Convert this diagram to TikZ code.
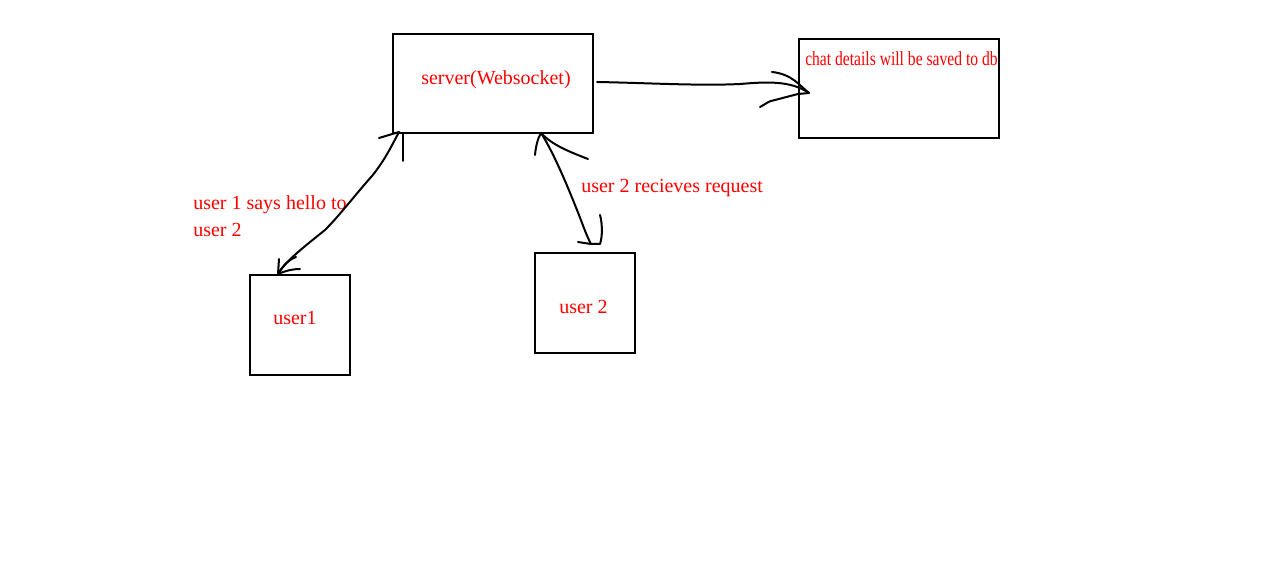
\documentclass[tikz,border=0pt]{standalone}
\usepackage{fontspec}
\setmainfont{Liberation Serif}
\usepackage{graphicx}
\begin{document}
\begin{tikzpicture}[x=0.75pt,y=-0.75pt,
  box/.style={draw=black, line width=1.5pt, inner sep=0pt, minimum width=150pt, minimum height=75pt},
  pen/.style={draw=black, line width=1.5pt, line cap=round, line join=round},
  lbl/.style={text=red, inner sep=0pt, anchor=base west, font=\fontsize{15}{20}\selectfont}]
\useasboundingbox (0,0) rectangle (1283,566);
\fill[white] (0,0) rectangle (1283,566);
% boxes
\node[box, minimum height=74.25pt] (srv) at (493,83.5) {};
\node[box, minimum height=74.25pt] (db) at (899,88.5) {};
\node[box, minimum width=75pt, minimum height=75pt] (u1) at (300,325) {};
\node[box, minimum width=75pt, minimum height=75pt] (u2) at (585,303.5) {};
% texts
\node[lbl] (tsrv) at (421,85) {server(Websocket)};
\node[lbl] (tdb) at (805,66) {\scalebox{0.78}[1]{chat details will be saved to db}};
\node[lbl] (tu1) at (273,325) {user1};
\node[lbl] (tu2) at (559,314) {user 2};
\node[lbl, align=left, anchor=north west, font=\fontsize{15}{20.25}\selectfont] (thello) at (193,195.5) {user 1 says hello to\\user 2};
\node[lbl] (trecv) at (581,193) {user 2 recieves request};
% connector server -> db
\coordinate (dbtip) at (809,93);
\draw[pen] (srv.east) ++(3,-1.5) .. controls (650,83) and (700,86) .. (740,84) .. controls (765,82) and (790,80) .. (dbtip);
\draw[pen] (772,72) .. controls (792,74) and (800,86) .. (dbtip);
\draw[pen] (760,107) .. controls (766,104) and (768,101) .. (775,100) -- (798,94) -- (dbtip);
% connector user1 <-> server
\coordinate (u1tip) at (278,274);
\coordinate (s1tip) at (399,132);
\draw[pen] (u1tip) .. controls (285,262) and (300,250) .. (325,230) .. controls (340,215) and (355,195) .. (372,176) .. controls (385,160) and (392,145) .. (s1tip);
\draw[pen] (279,259) -- (u1tip);
\draw[pen] (296,257) .. controls (288,260) and (283,266) .. (u1tip);
\draw[pen] (300,269) .. controls (292,269) and (285,271) .. (u1tip);
\draw[pen] (379,138) -- (s1tip);
\draw[pen] (403,133) -- (403,161);
% connector user2 <-> server
\coordinate (s2tip) at (541,133);
\coordinate (u2tip) at (591,244);
\draw[pen] (s2tip) .. controls (552,150) and (565,180) .. (575,205) .. controls (582,222) and (586,235) .. (u2tip);
\draw[pen] (535,155) .. controls (536,145) and (538,138) .. (s2tip);
\draw[pen] (588,159) .. controls (570,152) and (552,145) .. (s2tip);
\draw[pen] (578,242) -- (u2tip) -- (600,244) .. controls (603,235) and (602,222) .. (600,215);
\end{tikzpicture}
\end{document}
